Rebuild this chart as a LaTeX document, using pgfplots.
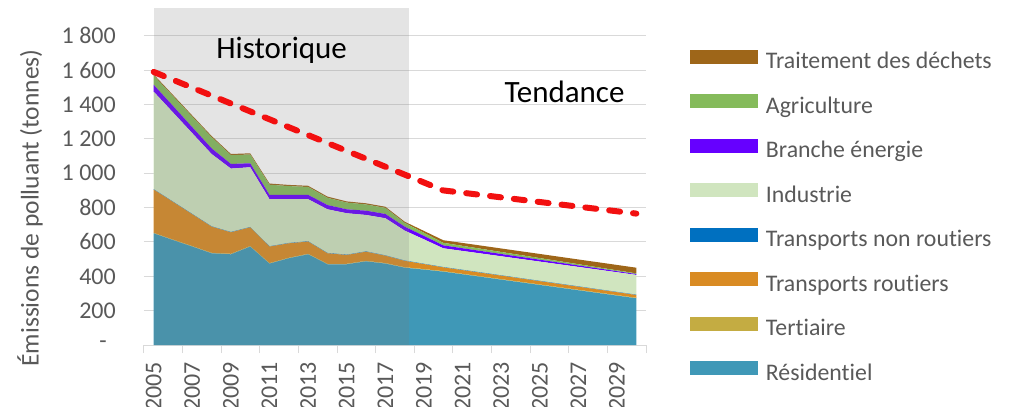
\documentclass[border=0pt]{standalone}
\usepackage{pgfplots}
\pgfplotsset{compat=1.18}
\usepackage{pgfplotstable}
\usepackage{fontspec}
\setmainfont{Carlito}[Ligatures=NoCommon]
\definecolor{cRes}{HTML}{3F98B7}
\definecolor{cTer}{HTML}{C4AC42}
\definecolor{cTR}{HTML}{D98B23}
\definecolor{cTNR}{HTML}{0070C0}
\definecolor{cInd}{HTML}{D0E5BF}
\definecolor{cBE}{HTML}{6600FF}
\definecolor{cAgr}{HTML}{85BB5B}
\definecolor{cDec}{HTML}{9E6619}
\definecolor{gridgray}{HTML}{D9D9D9}
\definecolor{textgray}{HTML}{595959}
\definecolor{redline}{HTML}{F21010}
\definecolor{histgray}{RGB}{122,122,122}

\pgfplotstableread{
year Res Ter TR TNR Ind BE Agr Dec
2005 650 3 252 2 568 40 53 7
2006 611 3 219 2 519 38 57 7
2007 573 3 185 2 470 35 61 7
2008 534 3 152 2 421 33 65 7
2009 528 3 125 2 369 27 51 7
2010 573 3 109 2 348 23 51 7
2011 474 3 96 2 274 25 59 7
2012 505 3 84 2 255 25 51 7
2013 528 3 71 2 245 25 46 7
2014 470 3 61 2 254 25 42 7
2015 470 3 51 2 241 23 39 7
2016 487 3 53 2 212 25 36 7
2017 474 3 43 2 216 25 35 7
2018 450 3 37 2 174 23 22 7
2019 439 3 29 2 142 20 18 11
2020 427 3 22 2 109 17 15 15
2021 411.5 3 21.4 2 109.6 15.8 13.9 16.8
2022 396 3 20.8 2 110.2 14.6 12.8 18.6
2023 380.5 3 20.2 2 110.8 13.4 11.7 20.4
2024 365 3 19.6 2 111.4 12.2 10.6 22.2
2025 349.5 3 19 2 112 11 9.5 24
2026 334 3 18.4 2 112.6 9.8 8.4 25.8
2027 318.5 3 17.8 2 113.2 8.6 7.3 27.6
2028 303 3 17.2 2 113.8 7.4 6.2 29.4
2029 287.5 3 16.6 2 114.4 6.2 5.1 31.2
2030 272 3 16 2 115 5 4 33
}\emissions

\pgfplotstableread{
year val
2005 1590
2020 900
2030 765
}\tendance

\begin{document}
\begin{tikzpicture}
\useasboundingbox (-144bp,-62bp) rectangle (871bp,345bp);
\begin{axis}[
  at={(0,0)}, anchor=south west,
  scale only axis, width=502bp, height=337bp,
  xmin=2004.5, xmax=2030.5, ymin=0, ymax=1962,
  enlargelimits=false,
  stack plots=y,
  axis x line*=bottom, axis y line*=left,
  x axis line style={draw=gridgray, line width=1bp},
  y axis line style={draw=none},
  ymajorgrids, grid style={draw=gridgray, line width=1bp},
  ytick={0,200,...,1800},
  yticklabels={-\kern9bp,200,400,600,800,1 000,1 200,1 400,1 600,1 800},
  ytick style={draw=none},
  xtick={2005,2007,...,2029},
  xticklabels={2005,2007,2009,2011,2013,2015,2017,2019,2021,2023,2025,2027,2029},
  major tick length=0pt, tick align=outside,
  xtick style={draw=gridgray, line width=1bp},
  extra x ticks={2004.5,2006.5,...,2030.5},
  extra x tick labels={},
  extra x tick style={major tick length=8bp},
  tick label style={font=\fontsize{24bp}{27bp}\selectfont, text=textgray},
  yticklabel style={inner sep=0pt, xshift=-28bp},
  xticklabel shift=8bp,
  xticklabel style={rotate=90, anchor=east, inner ysep=0pt, inner xsep=9bp},
  ylabel={Émissions de polluant (tonnes)},
  ylabel style={at={(axis description cs:-0.227,0.4065)}, anchor=center, rotate=0,
    font=\fontsize{25.5bp}{29bp}\selectfont, text=textgray, inner sep=0pt},
  legend image code/.code={\fill[#1] (0bp,0bp) rectangle (68bp,14bp);},
  reverse legend,
  legend cell align=left,
  legend style={at={(1.0876,0.8754)}, anchor=north west, draw=none, fill=none,
    inner sep=0pt, outer sep=0pt, row sep=20.5bp,
    font=\fontsize{23.8bp}{27bp}\selectfont, text=textgray,
    nodes={inner sep=0pt, text height=15bp, text depth=5bp},
    /tikz/every odd column/.append style={column sep=8bp}},
]
\addplot[fill=cRes, draw=none] table[x=year, y=Res] {\emissions} \closedcycle;
\addlegendentry{Résidentiel}
\addplot[fill=cTer, draw=none] table[x=year, y=Ter] {\emissions} \closedcycle;
\addlegendentry{Tertiaire}
\addplot[fill=cTR, draw=none] table[x=year, y=TR] {\emissions} \closedcycle;
\addlegendentry{Transports routiers}
\addplot[fill=cTNR, draw=none] table[x=year, y=TNR] {\emissions} \closedcycle;
\addlegendentry{Transports non routiers}
\addplot[fill=cInd, draw=none] table[x=year, y=Ind] {\emissions} \closedcycle;
\addlegendentry{Industrie}
\addplot[fill=cBE, draw=none] table[x=year, y=BE] {\emissions} \closedcycle;
\addlegendentry{Branche énergie}
\addplot[fill=cAgr, draw=none] table[x=year, y=Agr] {\emissions} \closedcycle;
\addlegendentry{Agriculture}
\addplot[fill=cDec, draw=none] table[x=year, y=Dec] {\emissions} \closedcycle;
\addlegendentry{Traitement des déchets}
\end{axis}
\begin{axis}[
  at={(0,0)}, anchor=south west,
  scale only axis, width=502bp, height=337bp,
  xmin=2004.5, xmax=2030.5, ymin=0, ymax=1962,
  enlargelimits=false, hide axis, clip=false,
]
\addplot[fill=histgray, fill opacity=0.2, draw=none] coordinates {(2005,0) (2005,1962) (2018.2,1962) (2018.2,0)} -- cycle;
\addplot[color=redline, line width=6bp, dash pattern=on 11bp off 13bp, line cap=round] table[x=year, y=val] {\tendance};
\node[font=\fontsize{31bp}{35bp}\selectfont, text=black] at (axis cs:2011.63,1718) {Historique};
\node[font=\fontsize{31bp}{35bp}\selectfont, text=black] at (axis cs:2026.28,1473) {Tendance};
\end{axis}
\end{tikzpicture}
\end{document}
